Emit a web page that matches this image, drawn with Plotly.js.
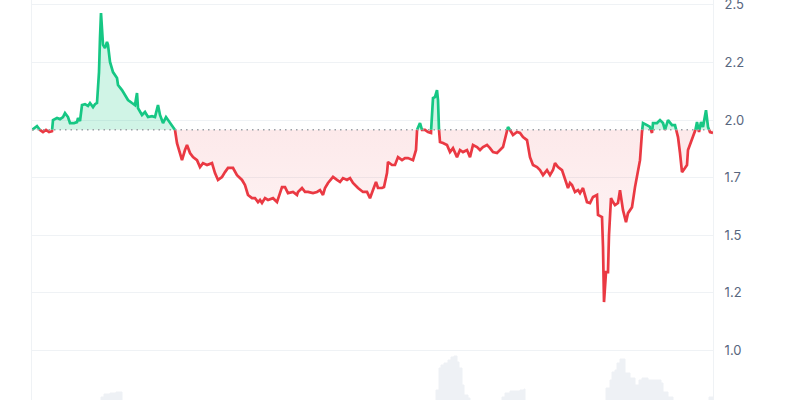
<!DOCTYPE html>
<html>
<head>
<meta charset="utf-8">
<script src="https://cdn.plot.ly/plotly-3.0.1.min.js"></script>
<style>html,body{margin:0;padding:0;background:#fff;}#chart{width:800px;height:400px;}</style>
</head>
<body>
<div id="chart"></div>
<script>
// time (arbitrary units along the chart) and price
const times = [0,2,5,8,11,14,17,20,21,25,28,31,33,36,38,42,45,46,48,50,
53,56,58,61,63,65,67,68,69,71,73,75,76,78,81,85,86,90,93,96,
100,103,105,106,110,113,116,120,123,126,128,131,134,136,140,143,145,148,150,153,
155,158,161,165,168,171,175,180,183,186,190,193,196,201,205,210,213,216,220,223,
226,228,230,233,236,241,245,250,253,256,261,265,266,270,273,276,281,285,288,291,
293,296,301,305,308,311,315,318,321,326,331,335,338,341,344,346,350,352,355,356,
360,363,366,370,373,376,381,384,385,388,390,393,396,399,400,401,403,405,406,407,
408,411,415,418,421,425,428,431,435,438,441,445,448,451,455,458,461,465,468,471,
474,476,478,481,485,488,491,495,498,501,505,508,511,515,518,521,523,526,530,533,
536,538,540,543,546,548,551,555,558,561,565,566,570,571,572,574,576,577,579,581,
583,586,588,591,594,596,600,603,606,608,610,611,615,618,620,621,625,628,631,633,
636,640,643,646,648,650,653,655,656,660,663,665,667,669,671,674,676,678,681];
const prices = [1.957,1.965,1.974,1.957,1.948,1.957,1.948,1.952,2.000,2.009,
2.004,2.013,2.030,2.013,1.987,1.987,1.991,2.009,1.996,2.065,
2.069,2.061,2.074,2.056,2.069,2.074,2.208,2.356,2.464,2.326,
2.312,2.339,2.326,2.252,2.208,2.182,2.152,2.130,2.109,2.087,
2.074,2.065,2.117,2.052,2.022,2.035,2.013,2.017,2.013,2.065,
2.022,1.987,2.013,2.000,1.978,1.957,1.900,1.857,1.826,1.870,
1.892,1.857,1.839,1.826,1.796,1.813,1.805,1.813,1.770,1.740,
1.753,1.774,1.792,1.792,1.761,1.740,1.718,1.675,1.661,1.661,
1.644,1.653,1.640,1.661,1.653,1.661,1.644,1.709,1.709,1.683,
1.688,1.675,1.688,1.705,1.688,1.688,1.683,1.688,1.696,1.675,
1.705,1.727,1.753,1.740,1.731,1.748,1.740,1.748,1.727,1.705,
1.688,1.688,1.661,1.696,1.731,1.705,1.705,1.709,1.770,1.818,
1.805,1.805,1.839,1.826,1.835,1.835,1.826,1.870,1.957,1.987,
1.957,1.957,1.948,1.944,2.043,2.095,2.100,2.130,2.087,1.957,
1.905,1.900,1.892,1.861,1.878,1.839,1.870,1.861,1.870,1.839,
1.892,1.883,1.870,1.883,1.892,1.878,1.861,1.857,1.870,1.883,
1.935,1.970,1.957,1.935,1.948,1.944,1.926,1.913,1.839,1.805,
1.796,1.783,1.761,1.783,1.761,1.783,1.813,1.796,1.783,1.740,
1.705,1.727,1.718,1.688,1.696,1.683,1.705,1.644,1.640,1.666,
1.675,1.588,1.579,1.449,1.210,1.340,1.340,1.501,1.661,1.644,
1.631,1.640,1.696,1.609,1.557,1.596,1.622,1.709,1.783,1.826,
1.948,1.987,1.978,1.970,1.944,1.987,1.987,2.000,1.987,1.957,
2.000,1.978,1.978,1.926,1.857,1.774,1.792,1.805,1.870,1.913,
1.948,1.991,1.948,1.991,1.970,2.043,1.970,1.948,1.944];
const basePrice = 1.958;

// volume (arbitrary units)
const volTimes = [0,20,40,60,69,72,78,84,90,110,130,150,170,200,230,260,290,320,350,380,
402,404,407,409,412,416,419,422,425,427,430,432,436,438,455,470,473,478,488,492,
493,520,550,572,574,578,580,583,585,588,591,593,598,603,607,610,616,624,629,631,
636,641,660,677,681];
const volumes = [20,25,30,35,43,46,47,48,30,28,22,30,25,20,18,22,20,25,30,35,
38,50,72,75,77,80,83,84,78,72,55,45,42,35,30,43,47,49,50,51,
35,30,32,38,52,60,68,70,77,81,81,67,62,55,60,62,60,60,57,48,
43,35,30,43,43];

const tickVals = [1.0,1.25,1.5,1.75,2.0,2.25,2.5];
const tickText = ["1.0","1.2","1.5","1.7","2.0","2.2","2.5"];

// split at crossings of the base price
const pts = [];
for (let i = 0; i < times.length; i++) {
  pts.push([times[i], prices[i]]);
  if (i < times.length - 1) {
    const a = prices[i] - basePrice, b = prices[i+1] - basePrice;
    if (a * b < 0) {
      const tc = times[i] + (basePrice - prices[i]) / (prices[i+1] - prices[i]) * (times[i+1] - times[i]);
      pts.push([tc, basePrice]);
    }
  }
}
const px = pts.map(p => p[0]);
const upper = pts.map(p => Math.max(p[1], basePrice));
const lower = pts.map(p => Math.min(p[1], basePrice));
const greenL = pts.map(p => p[1] >= basePrice ? p[1] : null);
const redL = pts.map(p => p[1] <= basePrice ? p[1] : null);
const baseArr = pts.map(() => basePrice);

const GREEN = '#16c784', RED = '#ea3943';

const traces = [
  {x: volTimes, y: volumes, type: 'scatter', mode: 'lines', yaxis: 'y2',
   line: {shape: 'hv', width: 1, color: '#eef1f5'}, fill: 'tozeroy', fillcolor: '#eef1f5', hoverinfo: 'skip'},
  {x: px, y: baseArr, type: 'scatter', mode: 'lines', line: {width: 0}, hoverinfo: 'skip'},
  {x: px, y: upper, type: 'scatter', mode: 'lines', line: {width: 0}, fill: 'tonexty',
   fillcolor: 'rgba(22,199,132,0.2)', hoverinfo: 'skip'},
  {x: px, y: baseArr, type: 'scatter', mode: 'lines', line: {width: 0}, hoverinfo: 'skip'},
  {x: px, y: lower, type: 'scatter', mode: 'lines', line: {width: 0}, fill: 'tonexty',
   fillcolor: 'rgba(234,57,67,0.08)',
   fillgradient: {type: 'vertical', colorscale: [[0, 'rgba(234,57,67,0.03)'], [1, 'rgba(234,57,67,0.11)']]},
   hoverinfo: 'skip'},
  {x: px, y: redL, type: 'scatter', mode: 'lines', line: {color: RED, width: 2.7}, connectgaps: false},
  {x: px, y: greenL, type: 'scatter', mode: 'lines', line: {color: GREEN, width: 2.7}, connectgaps: false}
];

const layout = {
  width: 800, height: 400,
  margin: {l: 32, r: 87, t: 0, b: 0},
  paper_bgcolor: '#fff', plot_bgcolor: '#fff',
  showlegend: false,
  xaxis: {range: [0, 681], showgrid: false, zeroline: false, showticklabels: false, ticks: '', showline: false},
  yaxis: {range: [0.785, 2.521], side: 'right', tickvals: tickVals, ticktext: tickText,
          gridcolor: '#eff2f5', gridwidth: 1, zeroline: false, showline: true, mirror: true,
          linecolor: '#eff2f5', linewidth: 1, ticks: '', ticklabelstandoff: 8,
          ticklabeloverflow: 'allow',
          tickfont: {family: 'Inter, Roboto, sans-serif', size: 13, color: '#58667e'}},
  yaxis2: {overlaying: 'y', range: [40, 440], visible: false},
  shapes: [{type: 'line', xref: 'paper', x0: 0, x1: 1, yref: 'y', y0: basePrice, y1: basePrice,
            line: {color: '#9aa0a6', width: 1.5, dash: '1.5px,4px'}}]
};

Plotly.newPlot('chart', traces, layout, {staticPlot: true, displayModeBar: false});
</script>
</body>
</html>
